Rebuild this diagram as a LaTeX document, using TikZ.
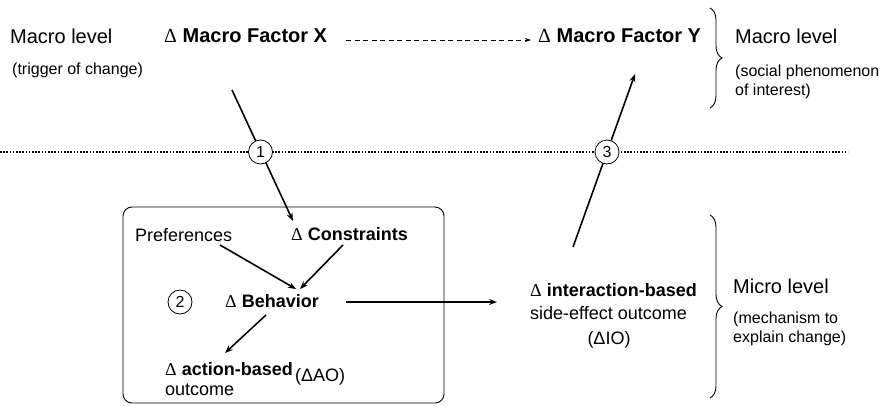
\documentclass[tikz,border=0pt]{standalone}
\usepackage{fontspec}
\setmainfont{Liberation Sans}
\newfontfamily\dfont{Liberation Serif}
\usetikzlibrary{arrows.meta,decorations.pathreplacing}
\newcommand{\dl}{{\dfont\mdseries Δ}}
\begin{document}
\begin{tikzpicture}[x=1pt,y=-1pt,
  big/.style={inner sep=0pt,anchor=west,font=\fontsize{20}{24}\selectfont},
  mid/.style={inner sep=0pt,anchor=west,font=\fontsize{18}{21}\selectfont},
  small/.style={inner sep=0pt,anchor=west,font=\fontsize{16}{19}\selectfont,align=left},
  arr/.style={line width=1.6pt,-{Stealth[length=8pt,width=6pt]}},
  num/.style={circle,draw,line width=0.8pt,fill=white,minimum size=24pt,inner sep=0pt,font=\fontsize{16}{19}\selectfont},
  brc/.style={decorate,decoration={brace,amplitude=12pt},line width=0.9pt}]
\path[use as bounding box] (0,0) rectangle (882,405);
% macro texts
\node[big] (mll) at (10,36) {Macro level};
\node[small] (trig) at (12,70) {(trigger of change)};
\node[big,font=\fontsize{20}{24}\selectfont\bfseries] (mx) at (164,36) {\dl{} Macro Factor X};
\node[big,font=\fontsize{20}{24}\selectfont\bfseries] (my) at (538,36) {\dl{} Macro Factor Y};
\node[big] (mlr) at (735,36) {Macro level};
\node[small,anchor=north west] (soc) at (735,64.5) {(social phenomenon\\of interest)};
\draw[line width=0.8pt,dash pattern=on 5pt off 3.5pt,-{Stealth[length=6pt,width=4pt]}] (346,40) coordinate (dxs) -- (531,40) coordinate (dxe);
\coordinate (b1t) at (710,8);
\coordinate (b1b) at (710,108);
\draw[brc] (b1t) -- (b1b);
% dotted line
\coordinate (dl0) at (0,152);
\coordinate (dl1) at (848,152);
\draw[line width=2pt,dash pattern=on 1.6pt off 1.6pt] (dl0) -- (dl1);
% box
\coordinate (bx0) at (123,207);
\coordinate (bx1) at (444,403);
\draw[line width=0.9pt,rounded corners=9pt] (bx0) rectangle (bx1);
\node[mid] (pref) at (135,235) {Preferences};
\node[mid,font=\fontsize{18}{21}\selectfont\bfseries] (cons) at (291,234) {\dl{} Constraints};
\node[mid,font=\fontsize{18}{21}\selectfont\bfseries] (beh) at (225,301) {\dl{} Behavior};
\node[num] (c2) at (180,302) {2};
\node[mid,font=\fontsize{18}{21}\selectfont\bfseries] (act) at (165,369) {\dl{} action-based};
\node[mid] (outc) at (165,390) {outcome};
\node[mid] (ao) at (295,377) {(ΔAO)};
% interaction
\node[mid,font=\fontsize{18}{21}\selectfont\bfseries] (inter) at (530,290.5) {\dl{} interaction-based};
\node[mid] (side) at (530,313) {side-effect outcome};
\node[mid,anchor=center] (io) at (609,340) {(ΔIO)};
\node[big] (mic) at (733,286) {Micro level};
\node[small,anchor=north west] (mech) at (733,312) {(mechanism to\\explain change)};
\coordinate (b2t) at (710,215);
\coordinate (b2b) at (710,398);
\draw[brc] (b2t) -- (b2b);
% arrows
\coordinate (a1s) at (232,90);
\coordinate (a1e) at (293,221);
\draw[arr] (a1s) -- (a1e);
\node[num] (c1) at (260.5,152) {1};
\coordinate (a3s) at (573,247);
\coordinate (a3e) at (635,74);
\draw[arr] (a3s) -- (a3e);
\node[num] (c3) at (607,152) {3};
\coordinate (p1) at (220,245);
\coordinate (p2) at (296,289);
\draw[arr] (p1) -- (p2);
\coordinate (q1) at (343,245);
\coordinate (q2) at (300,289);
\draw[arr] (q1) -- (q2);
\coordinate (r1) at (266,315);
\coordinate (r2) at (225,353);
\draw[arr] (r1) -- (r2);
\coordinate (h1) at (346,302);
\coordinate (h2) at (497,302);
\draw[arr] (h1) -- (h2);
\end{tikzpicture}
\end{document}
